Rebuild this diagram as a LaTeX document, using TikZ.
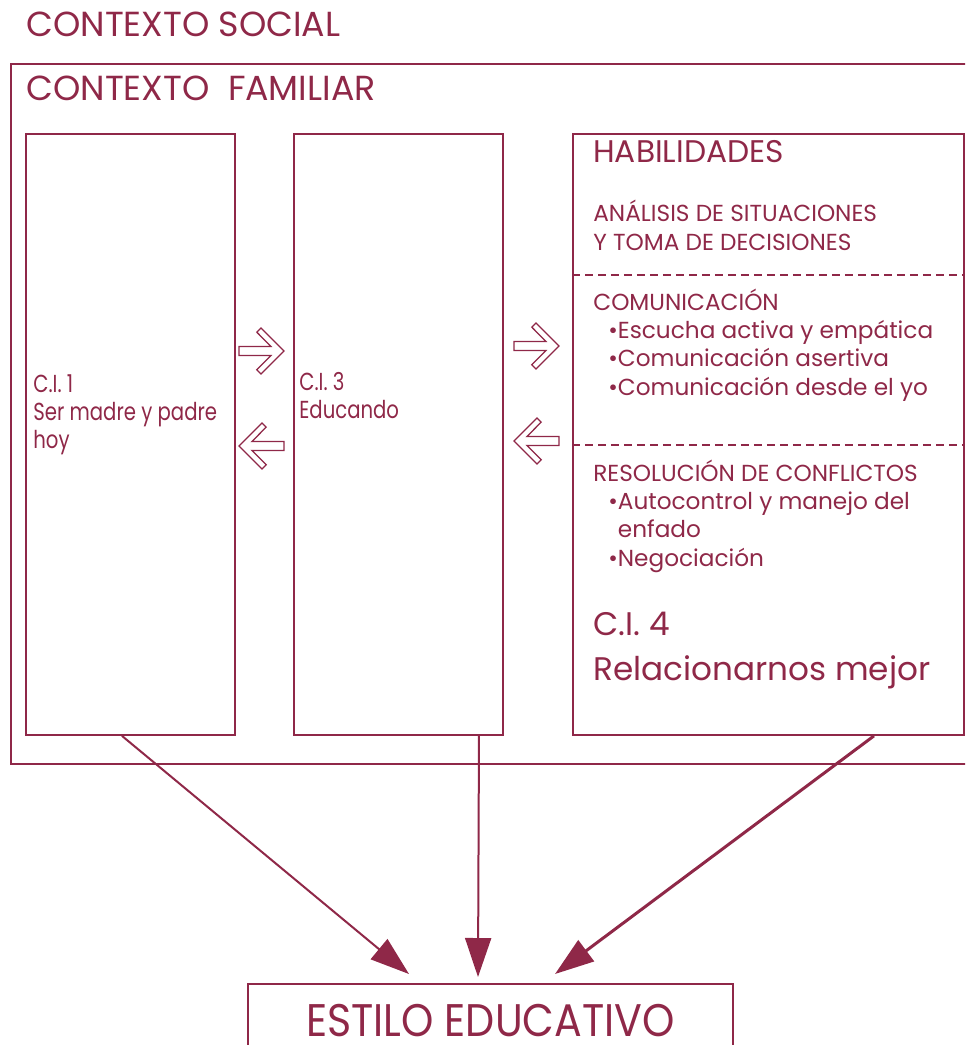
\documentclass[tikz,border=0pt]{standalone}
\usepackage{fontspec}
\setmainfont{Poppins}
\newfontfamily\narrowfont{Poppins}[FakeStretch=0.8]
\newfontfamily\estilofont{Poppins}[FakeStretch=0.9]
\usetikzlibrary{arrows.meta, positioning, calc}
\definecolor{winecolor}{RGB}{143, 40, 72}
\tikzset{
    % Boxes
    panel/.style={draw=winecolor, line width=0.04cm, anchor=north west, inner sep=0pt},
    dashline/.style={draw=winecolor, line width=0.04cm, dash pattern=on 0.16cm off 0.1cm},
    % Texts (multi-line nodes sit on the baseline of their last line)
    titletext/.style={anchor=base west, inner sep=0pt, text=winecolor, font=\fontsize{19.8}{23}\selectfont},
    headtext/.style={anchor=base west, inner sep=0pt, text=winecolor, font=\fontsize{17.8}{21}\selectfont},
    itemtext/.style={anchor=base west, inner sep=0pt, text=winecolor, align=left, font=\fontsize{13.2}{16.2}\selectfont},
    cilabel/.style={anchor=base west, inner sep=0pt, text=winecolor, align=left, font=\narrowfont\fontsize{14}{15.9}\selectfont},
    bigtext/.style={anchor=base west, inner sep=0pt, text=winecolor, align=left, font=\fontsize{18.6}{25.5}\selectfont},
    % Arrows
    myarrow/.style={-{Triangle[length=0.78cm, width=0.52cm]}, line width=0.04cm, winecolor},
    openarrow/.pic={
        \draw[winecolor, line width=0.025cm, fill=white]
            (-22.5,-4.5) -- (9.5,-4.5) -- (-4.7,-18.8) -- (-0.5,-23) -- (22.5,0)
            -- (-0.5,23) -- (-4.7,18.8) -- (9.5,4.5) -- (-22.5,4.5) -- cycle;
    },
}

\begin{document}
\begin{tikzpicture}[x=0.02cm, y=-0.02cm]
\useasboundingbox (0,0) rectangle (965,1045);
\clip (0,0) rectangle (965,1045);

% Contexts
\node (social) [titletext] at (26,36) {CONTEXTO SOCIAL};
\node (familia) [panel, minimum width=19.3cm, minimum height=14cm] at (10,63) {};
\node (familiatext) [titletext] at (26,100) {CONTEXTO\ \ FAMILIAR};

% Course boxes
\node (ci1) [panel, minimum width=4.18cm, minimum height=12.02cm] at (25,133) {};
\node (ci3) [panel, minimum width=4.18cm, minimum height=12.02cm] at (293,133) {};
\node (ci4) [panel, minimum width=7.82cm, minimum height=12.02cm] at (572,133) {};

\node (ci1text) [cilabel] at (33,448) {C.I. 1\\Ser madre y padre\\hoy};
\node (ci3text) [cilabel] at (299,418) {C.I. 3\\Educando};

% Skills
\node (habil) [headtext] at (593,162) {HABILIDADES};
\node (analisis) [itemtext] at (593,250) {ANÁLISIS DE SITUACIONES\\Y TOMA DE DECISIONES};
\draw[dashline] ($(ci4.north west)+(0,142)$) -- ($(ci4.north east)+(0,142)$);
\node (comunic) [itemtext] at (593,310) {COMUNICACIÓN};
\node (comunicitems) [itemtext] at (608,395) {\textbullet Escucha activa y empática\\
    \textbullet Comunicación asertiva\\
    \textbullet Comunicación desde el yo};
\draw[dashline] ($(ci4.north west)+(0,312)$) -- ($(ci4.north east)+(0,312)$);
\node (resol) [itemtext] at (593,481) {RESOLUCIÓN DE CONFLICTOS};
\node (resolitems) [itemtext] at (608,566) {\textbullet Autocontrol y manejo del\\
    \hphantom{\textbullet}enfado\\
    \textbullet Negociación};
\node (ci4text) [bigtext] at (593,680) {C.I. 4\\Relacionarnos mejor};

% Hollow arrows between boxes
\pic at ($(ci1.east)!0.5!(ci3.west)+(-3,-83.5)$) {openarrow};
\pic[rotate=180] at ($(ci1.east)!0.5!(ci3.west)+(-3,11.5)$) {openarrow};
\pic at ($(ci3.east)!0.5!(ci4.west)+(-1.5,-88.5)$) {openarrow};
\pic[rotate=180] at ($(ci3.east)!0.5!(ci4.west)+(-1.5,6.5)$) {openarrow};

% Result
\node (estilo) [panel, anchor=north, minimum width=9.7cm, text height=0.64cm, text depth=0pt,
    inner ysep=0.4cm, text=winecolor, font=\estilofont\fontsize{26}{30}\selectfont] at (490.5,983) {ESTILO EDUCATIVO};

\draw[myarrow] ($(ci1.south)+(-8.5,0)$) -- ($(estilo.north)+(-81.5,-9)$);
\draw[myarrow] ($(ci3.south)+(80.5,0)$) -- ($(estilo.north)+(-12.5,-6)$);
\draw[myarrow, line width=0.06cm] ($(ci4.south)+(105.5,0)$) -- ($(estilo.north)+(64.5,-9)$);

\end{tikzpicture}
\end{document}
